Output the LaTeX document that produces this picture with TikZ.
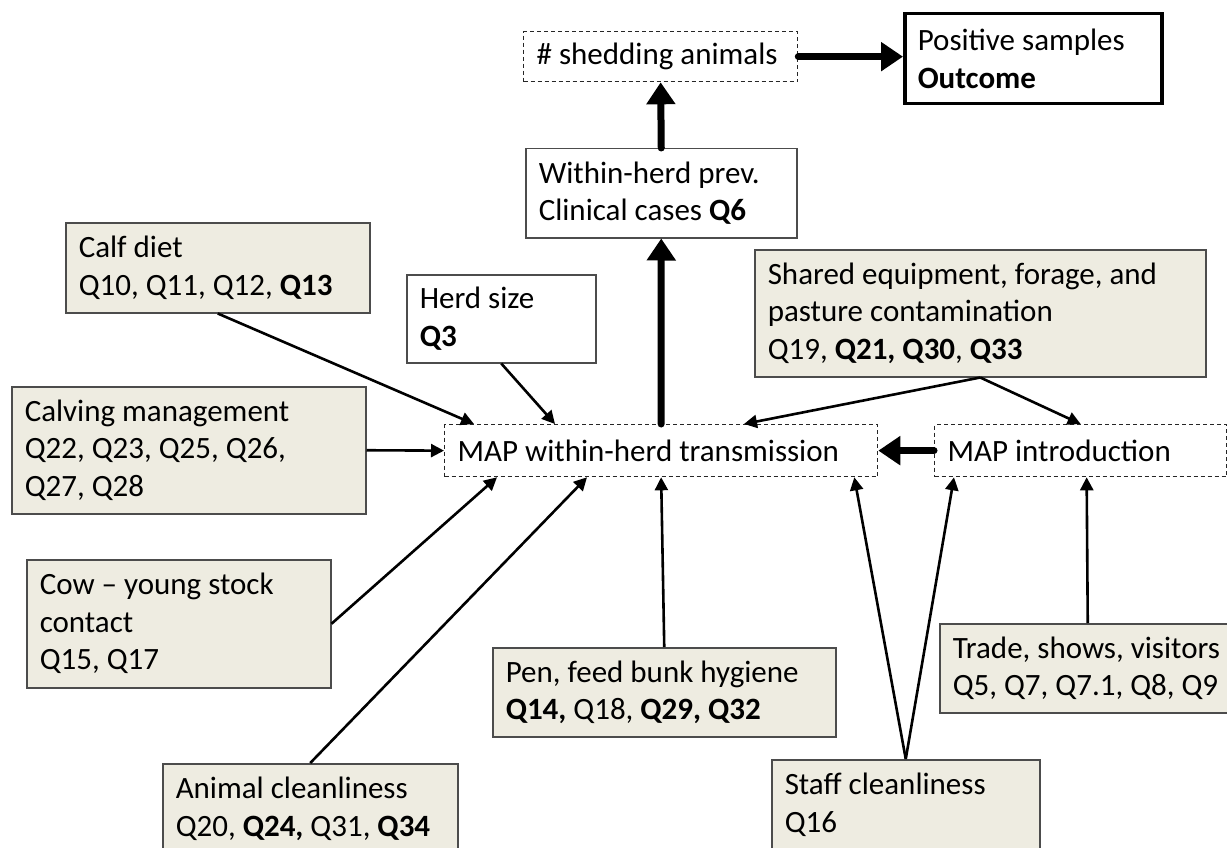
\documentclass[tikz,border=0pt]{standalone}
\usepackage{fontspec}
\setmainfont{Carlito}
\usetikzlibrary{arrows.meta}
\definecolor{tan}{HTML}{EEECE1}

\begin{document}
\begin{tikzpicture}[x=1pt,y=-1pt,
    box/.style={anchor=north west,inner xsep=13pt,inner ysep=0pt,align=flush left,
      font=\fontsize{31pt}{37.5pt}\selectfont},
    factor/.style={box,draw=black!70,line width=1.5pt,fill=tan},
    plain/.style={box,draw=black!70,line width=1.5pt,fill=white},
    latent/.style={box,draw=black!85,line width=1.3pt,dash pattern=on 4pt off 3pt,fill=white},
    outcome/.style={box,draw=black,line width=3.5pt,fill=white},
    link/.style={-{Triangle[length=13pt,width=13pt]},line width=2.6pt},
    flow/.style={-{Triangle[length=22pt,width=28pt]},line width=7pt,line cap=round}]
    \useasboundingbox (0,0) rectangle (1227,848);

    % outcome chain
    \node[latent,text width=248pt,minimum height=50pt] (shed) at (523,31) {\# shedding animals};
    \node[outcome,text width=231pt,minimum height=90pt] (pos) at (903,12) {Positive samples\\\textbf{Outcome}};
    \node[plain,text width=245pt,minimum height=89pt] (within) at (525,148) {Within-herd prev.\\Clinical cases \textbf{Q6}};

    % hidden processes
    \node[latent,text width=407pt,minimum height=52pt] (map) at (444,424) {MAP within-herd transmission};
    \node[latent,text width=266pt,minimum height=52pt] (intro) at (934,424) {MAP introduction};

    % upper factors
    \node[factor,text width=278pt,minimum height=90pt] (calf) at (65,222) {Calf diet\\Q10, Q11, Q12, \textbf{Q13}};
    \node[plain,text width=163pt,minimum height=88pt] (herd) at (406,274) {Herd size\\\textbf{Q3}};
    \node[factor,text width=425pt,minimum height=127pt] (shared) at (754,249) {Shared equipment, forage, and\\pasture contamination\\Q19, \textbf{Q21, Q30}, \textbf{Q33}};
    \node[factor,text width=328pt,minimum height=127pt] (calving) at (11,386) {Calving management\\Q22, Q23, Q25, Q26,\\Q27, Q28};

    % lower factors
    \node[factor,text width=278pt,minimum height=128pt] (cow) at (26,559) {Cow – young stock\\contact\\Q15, Q17};
    \node[factor,text width=317pt,minimum height=89pt] (pen) at (492,647) {Pen, feed bunk hygiene\\\textbf{Q14,} Q18, \textbf{Q29, Q32}};
    \node[factor,text width=270pt,minimum height=89pt] (trade) at (939,623) {Trade, shows, visitors\\Q5, Q7, Q7.1, Q8, Q9};
    \node[factor,text width=269pt,minimum height=90pt] (animal) at (162,763) {Animal cleanliness\\Q20, \textbf{Q24,} Q31, \textbf{Q34}};
    \node[factor,text width=242pt,minimum height=90pt] (staff) at (771,759) {Staff cleanliness\\Q16};

    % thick arrows
    \draw[flow] (shed.east) -- (pos.west |- shed.east);
    \draw[flow] (within.north) -- (shed.south);
    \draw[flow] (map.north) -- (within.south);
    \draw[flow] (intro.west) -- (map.east);

    % thin arrows
    \draw[link] (calf.south) -- ([xshift=30pt]map.north west);
    \draw[link] (herd.south) -- ([xshift=111pt]map.north west);
    \draw[link] (calving.east) -- (map.west);
    \draw[link] (shared.south) -- ([xshift=300pt]map.north west);
    \draw[link] (shared.south) -- (intro.north);
    \draw[link] (cow.east) -- ([xshift=53pt]map.south west);
    \draw[link] (animal.north) -- ([xshift=143pt]map.south west);
    \draw[link] (pen.north) -- (map.south);
    \draw[link] (staff.north) -- ([xshift=-24pt]map.south east);
    \draw[link] (staff.north) -- ([xshift=20pt]intro.south west);
    \draw[link] (trade.north) -- ([xshift=6pt]intro.south);
\end{tikzpicture}
\end{document}
